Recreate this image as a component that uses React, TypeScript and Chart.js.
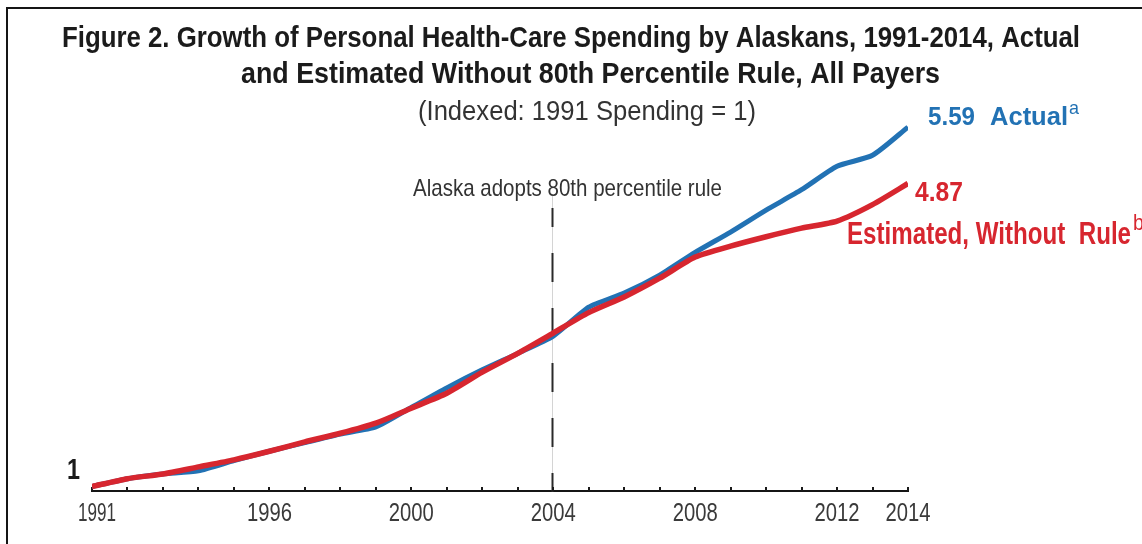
import React, { useEffect, useRef } from 'react';
import { Chart, registerables } from 'chart.js';

Chart.register(...registerables);

// ---- data ----
const years = [1991, 1992, 1993, 1994, 1995, 1996, 1997, 1998, 1999, 2000, 2001, 2002, 2003, 2004, 2005, 2006, 2007, 2008, 2009, 2010, 2011, 2012, 2013, 2014];
const actual = [1.0, 1.1, 1.16, 1.2, 1.33, 1.45, 1.56, 1.67, 1.76, 2.01, 2.26, 2.49, 2.7, 2.92, 3.29, 3.47, 3.7, 3.99, 4.25, 4.53, 4.79, 5.09, 5.23, 5.59];
const estimated = [1.0, 1.1, 1.16, 1.25, 1.34, 1.45, 1.57, 1.68, 1.81, 2.0, 2.19, 2.46, 2.7, 2.96, 3.22, 3.42, 3.66, 3.93, 4.07, 4.19, 4.3, 4.39, 4.6, 4.87];
const tickLabelYears = [1991, 1996, 2000, 2004, 2008, 2012, 2014];
const ruleYear = 2004;
const titleLines = [
  'Figure 2. Growth of Personal Health-Care Spending by Alaskans, 1991-2014, Actual',
  'and Estimated Without 80th Percentile Rule, All Payers',
  '(Indexed: 1991 Spending = 1)',
];
const ruleLabel = 'Alaska adopts 80th percentile rule';
const actualLabel = 'Actual';
const estimatedLabel = 'Estimated, Without  Rule';

const BLUE = '#2272b4';
const RED = '#d7262f';
const FONT = "'Liberation Sans Narrow', 'Liberation Sans', Arial, sans-serif";

function fitText(
  ctx: CanvasRenderingContext2D,
  text: string,
  x: number,
  y: number,
  w: number,
  size: number,
  weight: string,
  color: string,
  align: 'left' | 'center' = 'left'
) {
  ctx.save();
  ctx.font = `${weight} ${size}px ${FONT}`;
  const m = ctx.measureText(text).width;
  const s = m > 0 ? w / m : 1;
  ctx.fillStyle = color;
  ctx.textBaseline = 'alphabetic';
  ctx.textAlign = 'left';
  ctx.translate(align === 'center' ? x - w / 2 : x, y);
  ctx.scale(s, 1);
  ctx.fillText(text, 0, 0);
  ctx.restore();
}

const decorPlugin = {
  id: 'decor',
  beforeDraw(chart: any) {
    const ctx = chart.ctx as CanvasRenderingContext2D;
    ctx.save();
    ctx.fillStyle = '#ffffff';
    ctx.fillRect(0, 0, chart.width, chart.height);
    // frame (left + top)
    ctx.fillStyle = '#151515';
    ctx.fillRect(6, 7, 2, chart.height - 7);
    ctx.fillRect(6, 7, chart.width - 6, 2);
    ctx.restore();
  },
  beforeDatasetsDraw(chart: any) {
    const ctx = chart.ctx as CanvasRenderingContext2D;
    const xs = chart.scales.x;
    const area = chart.chartArea;
    const x = Math.round(xs.getPixelForValue(ruleYear)) - 1;
    ctx.save();
    ctx.strokeStyle = '#d4d4d4';
    ctx.lineWidth = 1;
    ctx.beginPath();
    ctx.moveTo(x + 0.5, 196);
    ctx.lineTo(x + 0.5, area.bottom);
    ctx.stroke();
    ctx.strokeStyle = '#2a2a2a';
    ctx.lineWidth = 2;
    ctx.setLineDash([29, 26]);
    ctx.lineDashOffset = 10;
    ctx.beginPath();
    ctx.moveTo(x + 0.5, area.bottom + 1);
    ctx.lineTo(x + 0.5, 208);
    ctx.stroke();
    ctx.setLineDash([]);
    // small upward tick marks on axis, one per year
    ctx.strokeStyle = '#1a1a1a';
    ctx.lineWidth = 2;
    for (const yr of years) {
      const px = Math.round(xs.getPixelForValue(yr));
      ctx.beginPath();
      ctx.moveTo(px, area.bottom);
      ctx.lineTo(px, area.bottom - 4);
      ctx.stroke();
    }
    ctx.restore();
  },
  afterDraw(chart: any) {
    const ctx = chart.ctx as CanvasRenderingContext2D;
    const xs = chart.scales.x;
    const ys = chart.scales.y;
    const area = chart.chartArea;
    // condensed x tick labels, positioned by the x scale
    for (const yr of tickLabelYears) {
      const px = xs.getPixelForValue(yr);
      const first = yr === years[0];
      fitText(ctx, String(yr), first ? px + 5 : px, area.bottom + 30, first ? 38 : 45, 26, 'normal', '#3a3a3a', 'center');
    }
    // titles
    fitText(ctx, titleLines[0], 62, 47, 1018, 30, 'bold', '#1b1b1b');
    fitText(ctx, titleLines[1], 241, 83, 699, 30, 'bold', '#1b1b1b');
    fitText(ctx, titleLines[2], 418, 120, 338, 27, 'normal', '#333333');
    // rule annotation
    fitText(ctx, ruleLabel, 413, 196, 309, 24, 'normal', '#333333');
    // start label "1"
    const y1 = ys.getPixelForValue(actual[0]);
    fitText(ctx, actual[0].toFixed(0), 67, y1 - 7, 13, 30, 'bold', '#1b1b1b');
    // end labels
    const last = years.length - 1;
    const xe = xs.getPixelForValue(years[last]);
    const yA = ys.getPixelForValue(actual[last]);
    const yE = ys.getPixelForValue(estimated[last]);
    fitText(ctx, actual[last].toFixed(2), xe + 20, yA - 2, 47, 25, 'bold', BLUE);
    fitText(ctx, actualLabel, xe + 82, yA - 2, 78, 25, 'bold', BLUE);
    fitText(ctx, 'a', xe + 161, yA - 13, 10, 19, 'normal', BLUE);
    fitText(ctx, estimated[last].toFixed(2), xe + 7, yE + 18, 48, 27, 'bold', RED);
    fitText(ctx, estimatedLabel, 847, yE + 61, 284, 31, 'bold', RED);
    fitText(ctx, 'b', 1133, yE + 47, 11, 22, 'normal', RED);
  },
};

export default function App() {
  const ref = useRef<HTMLCanvasElement | null>(null);
  useEffect(() => {
    if (!ref.current) return;
    const chart = new Chart(ref.current, {
      type: 'line',
      data: {
        labels: years,
        datasets: [
          {
            label: 'Estimated, Without Rule',
            data: years.map((y, i) => ({ x: y, y: estimated[i] })),
            borderColor: RED,
            borderWidth: 5.5,
            pointRadius: 0,
            tension: 0.2,
            fill: false,
            borderJoinStyle: 'round',
          },
          {
            label: 'Actual',
            data: years.map((y, i) => ({ x: y, y: actual[i] })),
            borderColor: BLUE,
            borderWidth: 5,
            pointRadius: 0,
            tension: 0.2,
            fill: false,
            borderJoinStyle: 'round',
          },
        ],
      },
      options: {
        animation: false,
        responsive: false,
        devicePixelRatio: 1,
        layout: { padding: { left: 92, right: 234, top: 95, bottom: 13 } },
        plugins: { legend: { display: false }, tooltip: { enabled: false }, title: { display: false } },
        scales: {
          x: {
            type: 'linear',
            min: 1991,
            max: 2014,
            grid: { display: false, drawTicks: false },
            border: { display: true, color: '#151515', width: 2 },
            afterFit: (scale: any) => {
              scale.height = 40;
            },
            ticks: {
              display: false,
              stepSize: 1,
              autoSkip: false,
              maxRotation: 0,
            },
          },
          y: {
            display: false,
            min: 0.9425,
            max: 6,
          },
        },
      },
      plugins: [decorPlugin],
    } as any);
    return () => chart.destroy();
  }, []);
  return (
    <div style={{ position: 'absolute', left: 0, top: 0, width: 1142, height: 544, background: '#fff' }}>
      <canvas ref={ref} width={1142} height={544} style={{ width: 1142, height: 544, display: 'block' }} />
    </div>
  );
}
